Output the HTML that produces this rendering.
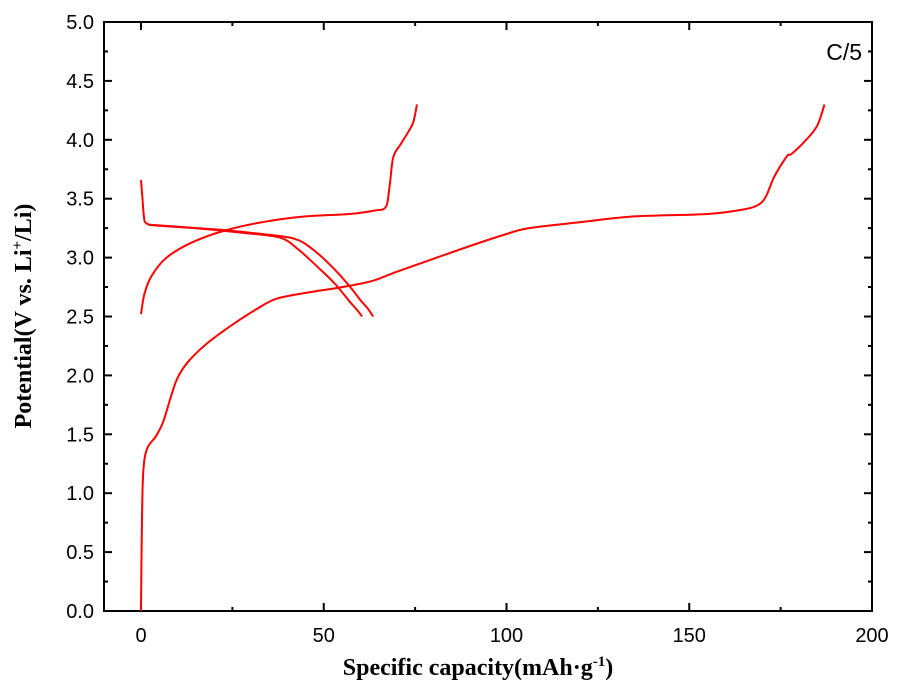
<!DOCTYPE html>
<html><head><meta charset="utf-8"><style>
body{margin:0;background:#fff;}
svg{display:block;}
</style></head><body>
<svg id="s" width="900" height="691" xmlns="http://www.w3.org/2000/svg" font-family="Liberation Sans, sans-serif">
<rect x="104" y="22" width="768" height="589" fill="none" stroke="#000" stroke-width="2"/>
<g id="ticks" stroke="#000" stroke-width="2"></g>
<g id="labels" font-size="20" fill="#000"></g>
<g id="curves" fill="none" stroke="#ff0000" stroke-width="2"></g>
<text x="862" y="60" font-size="23" text-anchor="end">C/5</text>
<text x="478" y="675" font-family="Liberation Serif, serif" font-weight="bold" font-size="24" text-anchor="middle">Specific capacity(mAh·g<tspan dy="-9" font-size="15">-1</tspan><tspan dy="9">)</tspan></text>
<text transform="translate(31,316) rotate(-90)" font-family="Liberation Serif, serif" font-weight="bold" font-size="24" text-anchor="middle">Potential(V vs. Li<tspan dy="-9" font-size="15">+</tspan><tspan dy="9">/Li)</tspan></text>
</svg>
<script>
var NS="http://www.w3.org/2000/svg";
function X(c){return 141+3.655*c;} function Y(v){return 611-117.8*v;}
var t=document.getElementById('ticks'),l=document.getElementById('labels');
function ln(x1,y1,x2,y2){var e=document.createElementNS(NS,'line');e.setAttribute('x1',x1);e.setAttribute('y1',y1);e.setAttribute('x2',x2);e.setAttribute('y2',y2);t.appendChild(e);}
function tx(x,y,s,a){var e=document.createElementNS(NS,'text');e.setAttribute('x',x);e.setAttribute('y',y);e.setAttribute('text-anchor',a);e.textContent=s;l.appendChild(e);}
for(var c=0;c<=200;c+=25){var x=X(c);var L=(c%50==0)?8:4;ln(x,611,x,611-L);ln(x,22,x,22+L);if(c%50==0)tx(x,642,String(c),'middle');}
for(var i=0;i<=20;i++){var v=i*0.25,y=Y(v);var L=(i%2==0)?8:4;ln(104,y,104+L,y);ln(872,y,872-L,y);if(i%2==0)tx(94,y+7,v.toFixed(1),'end');}
var curves=[
[[0,0],[0.2,0.6],[0.5,1.1],[1,1.3],[2,1.4],[4,1.48],[6,1.6],[8,1.8],[10,1.98],[13,2.12],[18,2.27],[25,2.43],[32,2.57],[37,2.65],[45,2.7],[55,2.75],[63,2.8],[70,2.88],[80,2.99],[92,3.12],[100,3.2],[106,3.25],[120,3.3],[135,3.35],[155,3.37],[165,3.41],[169,3.45],[171,3.52],[173,3.67],[175,3.78],[177,3.87],[178,3.88],[182,4.0],[185,4.12],[187,4.3]],
[[0,2.52],[1,2.7],[3,2.85],[7,3.0],[14,3.13],[23,3.23],[33,3.3],[45,3.35],[57,3.37],[64,3.4],[67,3.43],[68,3.6],[69,3.85],[71,3.96],[73,4.06],[74.5,4.15],[75.5,4.3]],
[[0,3.66],[0.4,3.5],[0.8,3.35],[1.5,3.29],[5,3.27],[20,3.24],[33,3.2],[42,3.16],[47,3.07],[52,2.93],[57,2.76],[60,2.64],[62,2.57],[63.5,2.5]],
[[2,3.28],[15,3.25],[28,3.21],[38,3.17],[43,3.07],[48,2.93],[53,2.78],[57,2.63],[59,2.56],[60.5,2.5]]
];
var g=document.getElementById('curves');
curves.forEach(function(p){
  var P=p.map(function(q){return [X(q[0]),Y(q[1])];});
  var d='M'+P[0][0].toFixed(1)+','+P[0][1].toFixed(1);
  for(var i=0;i<P.length-1;i++){
    var p0=P[Math.max(i-1,0)],p1=P[i],p2=P[i+1],p3=P[Math.min(i+2,P.length-1)];
    var c1=[p1[0]+(p2[0]-p0[0])/6,p1[1]+(p2[1]-p0[1])/6];
    var c2=[p2[0]-(p3[0]-p1[0])/6,p2[1]-(p3[1]-p1[1])/6];
    d+=' C'+c1[0].toFixed(1)+','+c1[1].toFixed(1)+' '+c2[0].toFixed(1)+','+c2[1].toFixed(1)+' '+p2[0].toFixed(1)+','+p2[1].toFixed(1);
  }
  var e=document.createElementNS(NS,'path');e.setAttribute('d',d);e.setAttribute('stroke-linejoin','round');g.appendChild(e);
});
</script>
</body></html>
